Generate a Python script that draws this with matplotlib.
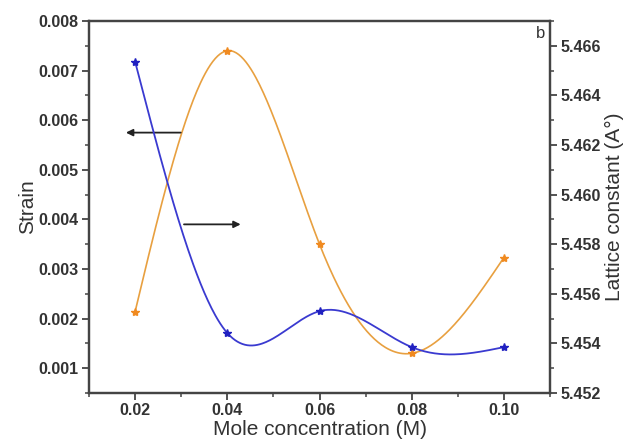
import numpy as np
import matplotlib
matplotlib.use("Agg")
import matplotlib.pyplot as plt
from matplotlib.ticker import MultipleLocator

plt.rcParams['font.family'] = ['Liberation Sans', 'DejaVu Sans']

conc = [0.02, 0.04, 0.06, 0.08, 0.10]
strain = [0.00214, 0.0074, 0.0035, 0.0013, 0.00323]
lattice = [5.46536, 5.45442, 5.4553, 5.45385, 5.45385]
xticks = [0.02, 0.04, 0.06, 0.08, 0.10]
xticklabels = ['0.02', '0.04', '0.06', '0.08', '0.10']


def natural_spline(x, y, n=300):
    x = np.asarray(x, float); y = np.asarray(y, float)
    k = len(x); h = np.diff(x)
    A = np.zeros((k, k)); b = np.zeros(k)
    A[0, 0] = 1; A[-1, -1] = 1
    for i in range(1, k - 1):
        A[i, i - 1] = h[i - 1]; A[i, i] = 2 * (h[i - 1] + h[i]); A[i, i + 1] = h[i]
        b[i] = 3 * ((y[i + 1] - y[i]) / h[i] - (y[i] - y[i - 1]) / h[i - 1])
    c = np.linalg.solve(A, b)
    xs = np.linspace(x[0], x[-1], n); ys = np.empty_like(xs)
    for j, xv in enumerate(xs):
        i = min(np.searchsorted(x, xv, side='right') - 1, k - 2)
        d = xv - x[i]
        bi = (y[i + 1] - y[i]) / h[i] - h[i] * (2 * c[i] + c[i + 1]) / 3
        di = (c[i + 1] - c[i]) / (3 * h[i])
        ys[j] = y[i] + bi * d + c[i] * d ** 2 + di * d ** 3
    return xs, ys


fig = plt.figure(figsize=(6.29, 4.46), dpi=100)
ax = fig.add_axes([0.1415, 0.1188, 0.7329, 0.8341])
ax2 = ax.twinx()

orange = '#e8a040'
blue = '#3a3ad0'

xs, ys = natural_spline(conc, strain)
ax.plot(xs, ys, color=orange, lw=1.2)
ax.plot(conc, strain, ls='none', marker='*', ms=6, color='#f08a20')

xs2, ys2 = natural_spline(conc, lattice)
ax2.plot(xs2, ys2, color=blue, lw=1.3)
ax2.plot(conc, lattice, ls='none', marker='*', ms=6, color='#2020c0')

ax.set_xlim(0.01, 0.11)
ax.set_ylim(0.0005, 0.008)
ax2.set_ylim(5.452, 5.467)

ax.set_xticks(xticks)
ax.set_xticklabels(xticklabels)
ax.xaxis.set_minor_locator(MultipleLocator(0.01))
ax.yaxis.set_minor_locator(MultipleLocator(0.0005))
ax.set_yticks([0.001, 0.002, 0.003, 0.004, 0.005, 0.006, 0.007, 0.008])
ax.set_yticklabels(['0.001', '0.002', '0.003', '0.004', '0.005', '0.006', '0.007', '0.008'])
ax2.set_yticks([5.452, 5.454, 5.456, 5.458, 5.460, 5.462, 5.464, 5.466])
ax2.set_yticklabels(['5.452', '5.454', '5.456', '5.458', '5.460', '5.462', '5.464', '5.466'])
ax2.yaxis.set_minor_locator(MultipleLocator(0.001))

for a in (ax, ax2):
    for s in a.spines.values():
        s.set_linewidth(1.6)
        s.set_color('#444444')
    a.tick_params(which='major', direction='out', length=5, width=1.3, colors='#444444',
                  labelsize=11.5, labelcolor='#333333', pad=2.5)
    a.tick_params(which='minor', direction='out', length=3, width=1.1, colors='#444444')
for lab in ax.get_xticklabels() + ax.get_yticklabels() + ax2.get_yticklabels():
    lab.set_fontweight('bold')

ax.set_xlabel('Mole concentration (M)', fontsize=15, color='#333333', labelpad=1)
ax.set_ylabel('Strain', fontsize=15, color='#333333', labelpad=1)
ax2.set_ylabel('Lattice constant (A°)', fontsize=15, color='#333333', labelpad=3)

ax.text(0.107, 0.0079, 'b', fontsize=12, ha='left', va='top', color='#333333')

ax.annotate('', xy=(0.0174, 0.00575), xytext=(0.0305, 0.00575),
            arrowprops=dict(arrowstyle='-|>', color='#222222', lw=1.3, mutation_scale=10))
ax.annotate('', xy=(0.0435, 0.0039), xytext=(0.030, 0.0039),
            arrowprops=dict(arrowstyle='-|>', color='#222222', lw=1.3, mutation_scale=10))

fig.savefig('out.png', dpi=100)
